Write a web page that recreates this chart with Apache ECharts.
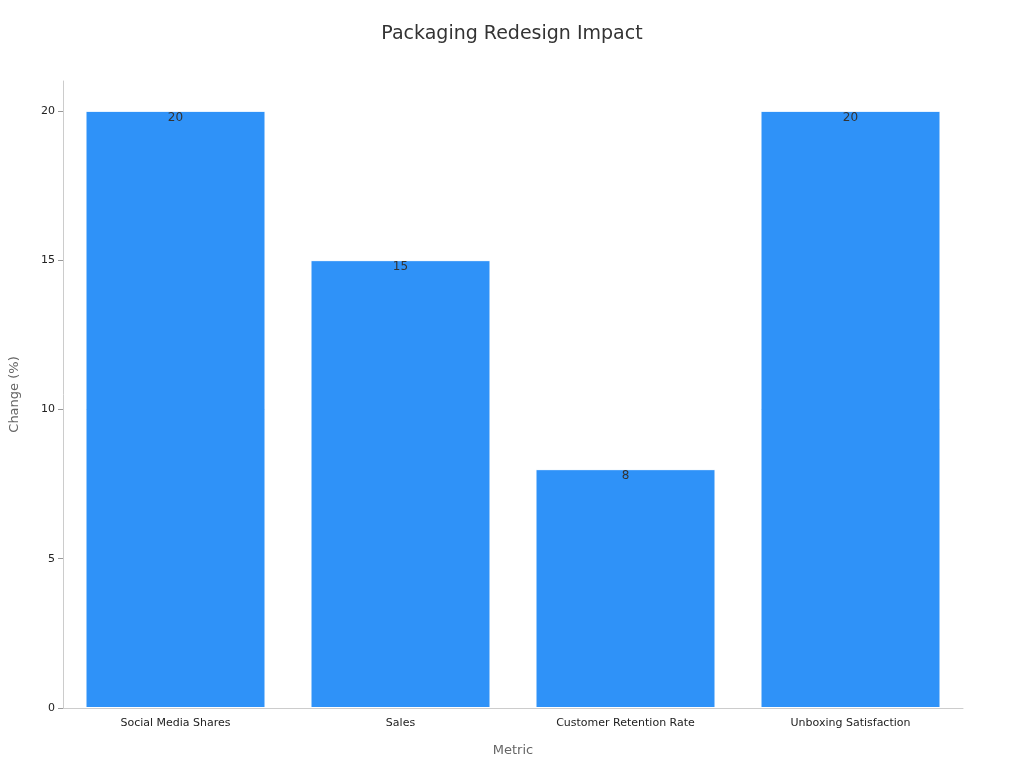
<!DOCTYPE html>
<html><head><meta charset="utf-8">
<script src="https://cdn.jsdelivr.net/npm/echarts@6/dist/echarts.min.js"></script>
<style>html,body{margin:0;padding:0;background:#fff}#c{width:1024px;height:768px}</style>
</head><body><div id="c"></div>
<script>
const categories = ["Social Media Shares", "Sales", "Customer Retention Rate", "Unboxing Satisfaction"];
const values = [20, 15, 8, 20];
const yTicks = [0, 5, 10, 15, 20];

const chart = echarts.init(document.getElementById('c'));
chart.setOption({
  animation: false,
  textStyle: { fontFamily: 'DejaVu Sans' },
  title: { text: 'Packaging Redesign Impact', left: 'center', top: 20,
    textStyle: { fontSize: 19, fontWeight: 'normal', color: '#333', fontFamily: 'DejaVu Sans' } },
  grid: { left: 60, right: 61, top: 81, bottom: 60 },
  xAxis: {
    type: 'category', data: categories,
    name: 'Metric', nameLocation: 'middle', nameGap: 36,
    nameTextStyle: { fontSize: 13, color: '#666' },
    axisLine: { lineStyle: { color: '#ccc' } },
    axisTick: { alignWithLabel: true, lineStyle: { color: '#999' } },
    axisLabel: { fontSize: 11, color: '#222', margin: 10 }
  },
  yAxis: {
    type: 'value', min: 0, max: 21, interval: 5,
    name: 'Change (%)', nameLocation: 'middle', nameGap: 42,
    nameTextStyle: { fontSize: 13, color: '#666' },
    axisLine: { show: true, lineStyle: { color: '#ccc' } },
    axisTick: { show: true, customValues: yTicks, lineStyle: { color: '#999' } },
    axisLabel: { fontSize: 11, color: '#222', customValues: yTicks },
    splitLine: { show: false }
  },
  series: [{
    type: 'bar', data: values, barCategoryGap: '20%',
    itemStyle: { color: '#2f92f8', borderColor: '#fff', borderWidth: 1 },
    label: { show: true, position: 'insideTop', offset: [0, -4], color: '#333', fontSize: 12 }
  }]
});
</script></body></html>
